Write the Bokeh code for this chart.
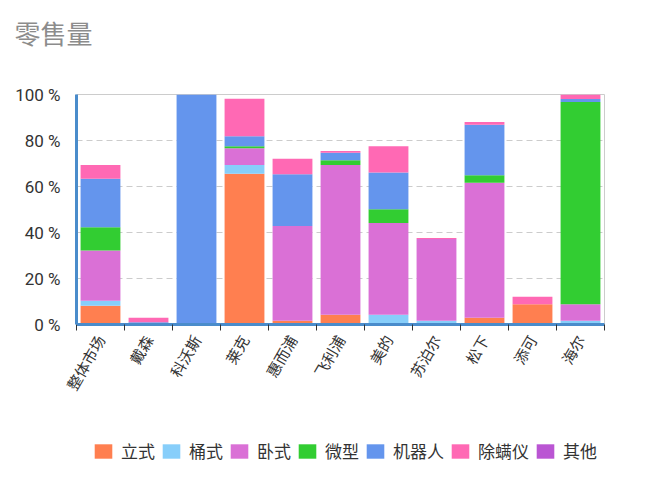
import numpy as np
from bokeh.plotting import figure
from bokeh.models import ColumnDataSource, FixedTicker, Legend, LegendItem, PrintfTickFormatter, Range1d, Title
from bokeh.layouts import column
from bokeh.embed import file_html
from bokeh.resources import INLINE

brands = ["整体市场", "戴森", "科沃斯", "莱克", "惠而浦", "飞利浦", "美的", "苏泊尔", "松下", "添可", "海尔"]
series = ["立式", "桶式", "卧式", "微型", "机器人", "除螨仪", "其他"]
colors = ["#ff7f50", "#87cefa", "#da70d6", "#32cd32", "#6495ed", "#ff69b4", "#ba55d3"]

li_shi = [8.2, 0, 0, 65.5, 1.6, 4.2, 0, 0, 2.9, 8.8, 0]
tong_shi = [2.1, 0, 0, 3.9, 0, 0, 4.2, 1.6, 0, 0, 1.6]
wo_shi = [21.9, 0.4, 0, 7.2, 41.2, 65.2, 39.9, 35.6, 58.7, 0, 7.2]
wei_xing = [10.1, 0, 0, 0.9, 0, 2.0, 6.0, 0, 3.3, 0, 87.9]
robot = [21.1, 0.6, 100, 4.4, 22.5, 3.3, 16.0, 0, 21.9, 0, 1.3]
chu_man = [6.0, 1.9, 0, 16.2, 6.8, 0.7, 11.4, 0.4, 1.2, 3.3, 2.0]
qi_ta = [0, 0, 0, 0, 0, 0, 0, 0, 0, 0, 0]

cjk = "Noto Sans CJK SC"
pos = list(range(len(brands)))

source = ColumnDataSource(data={
    "x": pos,
    "立式": li_shi, "桶式": tong_shi, "卧式": wo_shi, "微型": wei_xing,
    "机器人": robot, "除螨仪": chu_man, "其他": qi_ta,
})

p = figure(width=634, height=440, output_backend="svg", toolbar_location=None,
           tools="", x_range=Range1d(-0.5, len(brands) - 0.5), y_range=Range1d(0, 100),
           min_border=0, min_border_left=76, min_border_right=30, min_border_bottom=116,
           title="零售量")

p.title.text_font = cjk
p.title.text_font_size = "26px"
p.title.text_font_style = "normal"
p.title.text_color = "#8c8c8c"
p.title.align = "left"
p.title.offset = -62
p.title.standoff = 22

# empty spacer between title and frame
p.add_layout(Title(text=" ", text_font_size="1px", standoff=30), "above")

rs = p.vbar_stack(series, x="x", width=0.83, source=source, color=colors, line_color=None)

# x axis: labels at centres, ticks at boundaries
p.xaxis.ticker = FixedTicker(ticks=pos, minor_ticks=[i - 0.5 for i in range(len(brands) + 1)])
p.xaxis.major_label_overrides = {i: b for i, b in zip(pos, brands)}
p.xaxis.major_label_orientation = np.pi / 3
p.xaxis.major_label_text_font = cjk
p.xaxis.major_label_text_font_size = "15px"
p.xaxis.major_label_text_color = "#333333"
p.xaxis.major_tick_out = 0
p.xaxis.major_tick_in = 0
p.xaxis.minor_tick_out = 6
p.xaxis.minor_tick_in = 0
p.xaxis.minor_tick_line_color = "#333333"
p.xaxis.axis_line_color = "#4a8ccb"
p.xaxis.axis_line_width = 3
p.xaxis.major_label_standoff = 6

p.yaxis.ticker = FixedTicker(ticks=[0, 20, 40, 60, 80, 100])
p.yaxis.formatter = PrintfTickFormatter(format="%d %%")
p.yaxis.major_label_text_font = "Roboto"
p.yaxis.major_label_text_font_size = "17px"
p.yaxis.major_label_text_color = "#333333"
p.yaxis.major_tick_line_color = None
p.yaxis.minor_tick_line_color = None
p.yaxis.axis_line_color = "#4a8ccb"
p.yaxis.axis_line_width = 3
p.yaxis.major_label_standoff = 10

p.xgrid.visible = False
p.ygrid.grid_line_color = "#cccccc"
p.ygrid.grid_line_dash = "6 4"
p.outline_line_color = "#cccccc"

# legend strip: same stacks drawn out of view, only the legend shows
leg = figure(width=634, height=38, output_backend="svg", toolbar_location=None, tools="",
             x_range=Range1d(-0.5, len(brands) - 0.5), y_range=Range1d(1000, 1001),
             x_axis_location=None, y_axis_location=None, min_border=0)
leg.grid.visible = False
leg.outline_line_color = None
lrs = leg.vbar_stack(series, x="x", width=0.83, source=source, color=colors, line_color=None)

items = [LegendItem(label=s, renderers=[r]) for s, r in zip(series, lrs)]
legend = Legend(items=items, orientation="horizontal", location=(16, 15),
                label_text_font=cjk, label_text_font_size="17px", label_text_color="#333333",
                glyph_width=22, glyph_height=18, label_standoff=7, spacing=5,
                border_line_color=None, background_fill_alpha=0, margin=0, padding=0)
leg.add_layout(legend, "center")

open("out.html", "w").write(file_html(column(p, leg, spacing=0), INLINE))
